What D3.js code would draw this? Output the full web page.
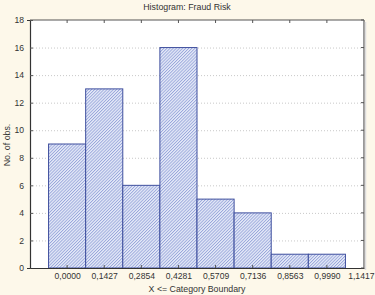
<!DOCTYPE html>
<html><head><meta charset="utf-8">
<script src="https://cdn.jsdelivr.net/npm/d3@7"></script>
<style>body{margin:0;background:#fdf8ea;}svg{display:block;font-family:Arial,"Liberation Sans",sans-serif;}</style>
</head><body><svg id="c" width="375" height="295"></svg>
<script>
const categories = ["0,0000","0,1427","0,2854","0,4281","0,5709","0,7136","0,8563","0,9990","1,1417"];
const counts = [9, 13, 6, 16, 5, 4, 1, 1];
const yTicks = [0,2,4,6,8,10,12,14,16,18];

const svg = d3.select("#c");
const L=30, R=364, T=20, B=268;
const x = d3.scaleLinear().domain([-1, 8]).range([L, R]);
const y = d3.scaleLinear().domain([0, 18]).range([B, T]);

const defs = svg.append("defs");
const pat = defs.append("pattern").attr("id","hatch").attr("patternUnits","userSpaceOnUse")
  .attr("width",2.2).attr("height",2.2).attr("patternTransform","rotate(45)");
pat.append("rect").attr("width",2.2).attr("height",2.2).attr("fill","#e6ebf8");
pat.append("line").attr("x1",0.5).attr("y1",0).attr("x2",0.5).attr("y2",2.2).attr("stroke","#8192d2").attr("stroke-width",0.7);

svg.append("rect").attr("x",L).attr("y",T).attr("width",R-L).attr("height",B-T).attr("fill","#fff");

// grid
svg.append("g").selectAll("line").data(yTicks.filter(d=>d>0&&d<18)).join("line")
  .attr("x1",L).attr("x2",R).attr("y1",d=>y(d)+0.5).attr("y2",d=>y(d)+0.5)
  .attr("stroke","#c8c8c8").attr("stroke-dasharray","1,2").attr("stroke-width",1);

// bars
svg.append("g").selectAll("rect").data(counts).join("rect")
  .attr("x",(d,i)=>x(i-0.5)).attr("width",(d,i)=>x(i+0.5)-x(i-0.5))
  .attr("y",d=>y(d)).attr("height",d=>B-y(d))
  .attr("fill","url(#hatch)").attr("stroke","#3f4f9e").attr("stroke-width",1);

// frame
svg.append("line").attr("x1",L).attr("x2",R).attr("y1",T).attr("y2",T).attr("stroke","#555");
svg.append("line").attr("x1",R).attr("x2",R).attr("y1",T).attr("y2",B).attr("stroke","#777").attr("stroke-width",1.5);
svg.append("line").attr("x1",R+1.5).attr("x2",R+1.5).attr("y1",T+2).attr("y2",B+2).attr("stroke","#ddd").attr("stroke-width",1.5);

// axes
const yAxis = d3.axisLeft(y).tickValues(yTicks).tickSize(3).tickPadding(3);
const gy = svg.append("g").attr("transform",`translate(${L},0)`).call(yAxis);
const xAxis = d3.axisBottom(x).tickValues(d3.range(categories.length)).tickFormat(i=>categories[i]).tickSize(0).tickPadding(5);
const gx = svg.append("g").attr("transform",`translate(0,${B})`).call(xAxis);
[gy,gx].forEach(g=>{g.select(".domain").attr("stroke","#333").attr("stroke-width",1.2);
  g.selectAll("text").attr("fill","#333").style("font-size","8.6px");
  g.selectAll(".tick line").attr("stroke","#555");});
gy.selectAll(".tick line").attr("x2",3);
gx.selectAll(".tick text").filter(i=>i===categories.length-1)
  .attr("text-anchor","end").attr("x",374-x(categories.length-1));
// inner ticks top/bottom/right
svg.append("g").selectAll("line").data(d3.range(8)).join("line")
  .attr("x1",d=>x(d)).attr("x2",d=>x(d)).attr("y1",T).attr("y2",T+3).attr("stroke","#555");
svg.append("g").selectAll("line").data(d3.range(8)).join("line")
  .attr("x1",d=>x(d)).attr("x2",d=>x(d)).attr("y1",B).attr("y2",B-3).attr("stroke","#555");
svg.append("g").selectAll("line").data(yTicks).join("line")
  .attr("x1",R-3).attr("x2",R).attr("y1",d=>y(d)).attr("y2",d=>y(d)).attr("stroke","#555");

svg.append("text").attr("x",187).attr("y",10).attr("text-anchor","middle").attr("fill","#333").style("font-size","8.8px").text("Histogram: Fraud Risk");
svg.append("text").attr("x",197).attr("y",292).attr("text-anchor","middle").attr("fill","#333").style("font-size","8.8px").text("X <= Category Boundary");
svg.append("text").attr("transform","translate(10,145) rotate(-90)").attr("text-anchor","middle").attr("fill","#333").style("font-size","8.8px").text("No. of obs.");
</script></body></html>
